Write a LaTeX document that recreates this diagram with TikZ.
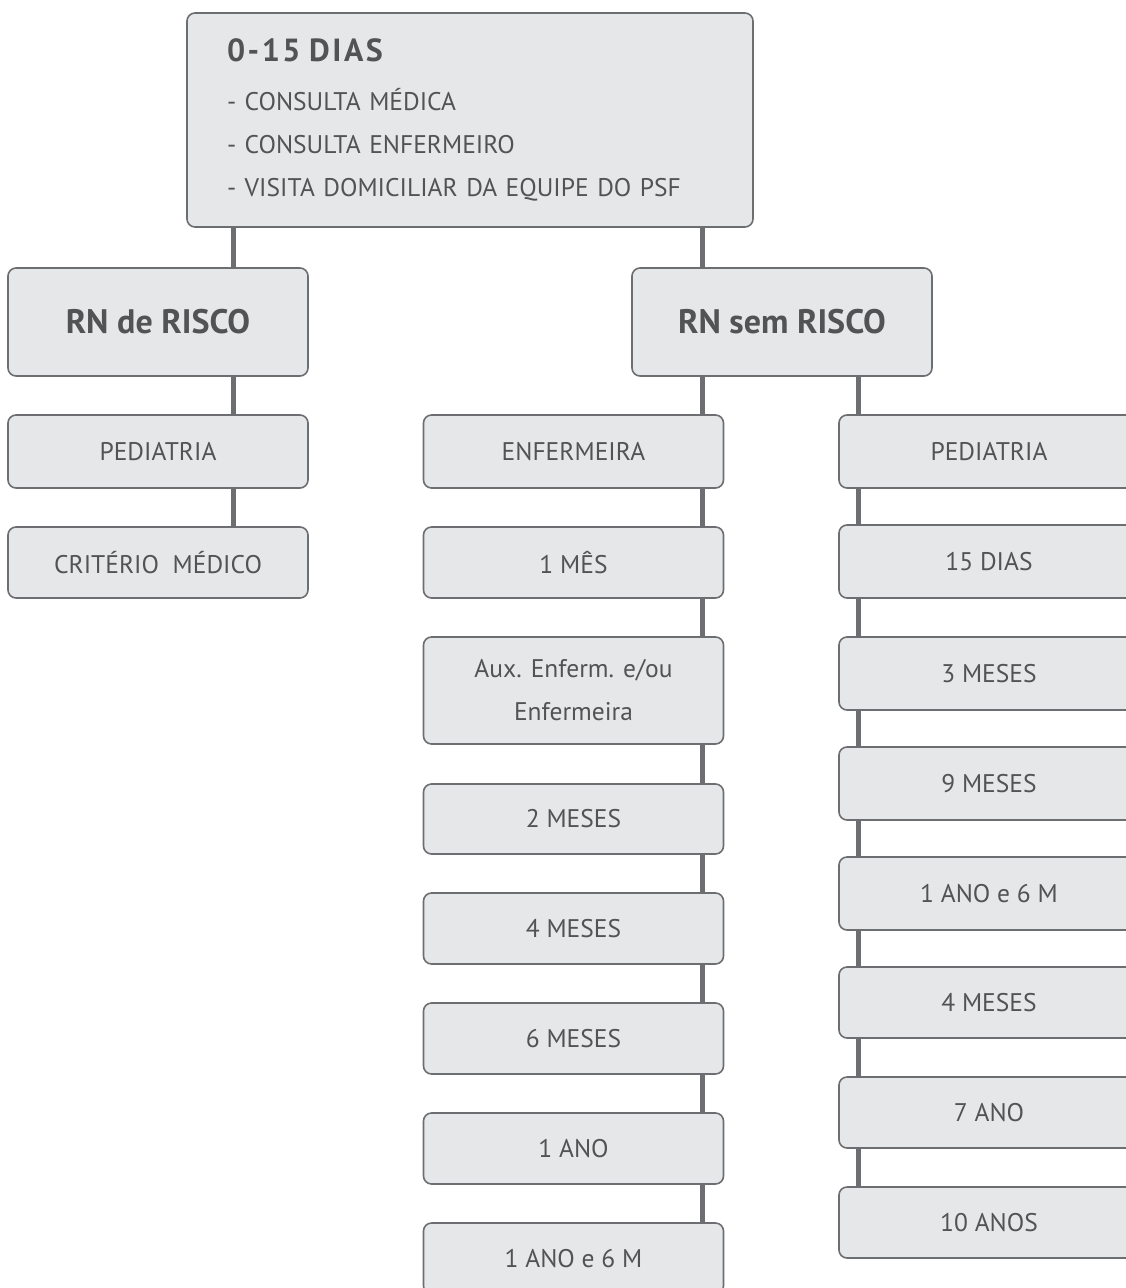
\documentclass[tikz,border=0pt]{standalone}
\usepackage{fontspec}
\setmainfont{PT Sans}
\usepackage{tikz}
\definecolor{boxfill}{HTML}{E6E7E8}
\definecolor{boxline}{HTML}{6D6E71}
\definecolor{txtgrey}{HTML}{525355}
\tikzstyle{box}=[draw=boxline,fill=boxfill,rounded corners=8pt,line width=1.6pt,text=txtgrey,minimum width=300pt,minimum height=72pt,inner sep=0pt,font=\fontsize{25.5}{43}\selectfont]
\tikzstyle{bigbox}=[box,minimum height=108pt,font=\fontsize{34}{40}\selectfont\bfseries]
\tikzstyle{link}=[draw=boxline,line width=5pt]

\begin{document}
\begin{tikzpicture}[x=1pt,y=-1pt]
    \useasboundingbox (0,0) rectangle (1126,1288);
    \clip (0,0) rectangle (1126,1288);
    \coordinate (xl) at (233,0);
    \coordinate (xr) at (702,0);
    \coordinate (xp) at (858,0);
%   top
    \node[box,minimum width=566pt,minimum height=214pt,text width=486pt,align=left] (top) at (470,120)
      {{\fontsize{32}{43}\selectfont\bfseries\addfontfeatures{LetterSpace=8}0-15 DIAS}\\[6pt]
       - CONSULTA MÉDICA\\
       - CONSULTA ENFERMEIRO\\
       - VISITA DOMICILIAR DA EQUIPE DO PSF};
%   RN de risco
    \node[bigbox] (risco) at (158,322) {RN de RISCO};
    \node[box,minimum height=73pt] (pedl) at (158,451.5) {PEDIATRIA};
    \node[box,minimum height=71pt] (crit) at (158,562.5) {CRITÉRIO\ \ MÉDICO};
%   RN sem risco
    \node[bigbox] (semrisco) at (782,322) {RN sem RISCO};
%   enfermeira
    \node[box,minimum height=73pt] (enf) at (573.5,451.5) {ENFERMEIRA};
    \node[box,minimum height=71pt] (mes1) at (573.5,562.5) {1 MÊS};
    \node[box,minimum height=107pt,align=center] (aux) at (573.5,690.5) {Aux. Enferm. e/ou\\Enfermeira};
    \node[box,minimum height=70pt] (m2) at (573.5,819) {2 MESES};
    \node[box,minimum height=71pt] (m4) at (573.5,928.5) {4 MESES};
    \node[box,minimum height=71pt] (m6) at (573.5,1038.5) {6 MESES};
    \node[box,minimum height=71pt] (ano1) at (573.5,1148.5) {1 ANO};
    \node[box,minimum height=71pt] (ano16) at (573.5,1258.5) {1 ANO e 6 M};
%   pediatria
    \node[box,minimum height=73pt] (pedr) at (989,451.5) {PEDIATRIA};
    \node[box,minimum height=73pt] (d15) at (989,561.5) {15 DIAS};
    \node[box,minimum height=73pt] (m3) at (989,673.5) {3 MESES};
    \node[box,minimum height=73pt] (m9) at (989,783.5) {9 MESES};
    \node[box,minimum height=73pt] (a16) at (989,893.5) {1 ANO e 6 M};
    \node[box,minimum height=71pt] (m4r) at (989,1002.5) {4 MESES};
    \node[box,minimum height=71pt] (a7) at (989,1112.5) {7 ANO};
    \node[box,minimum height=71pt] (a10) at (989,1222.5) {10 ANOS};
%   links
    \draw[link] (top.south -| xl) -- (risco.north -| xl);
    \draw[link] (top.south -| xr) -- (semrisco.north -| xr);
    \draw[link] (risco.south -| xl) -- (pedl.north -| xl);
    \draw[link] (pedl.south -| xl) -- (crit.north -| xl);
    \draw[link] (semrisco.south -| xr) -- (enf.north -| xr);
    \draw[link] (enf.south -| xr) -- (mes1.north -| xr);
    \draw[link] (mes1.south -| xr) -- (aux.north -| xr);
    \draw[link] (aux.south -| xr) -- (m2.north -| xr);
    \draw[link] (m2.south -| xr) -- (m4.north -| xr);
    \draw[link] (m4.south -| xr) -- (m6.north -| xr);
    \draw[link] (m6.south -| xr) -- (ano1.north -| xr);
    \draw[link] (ano1.south -| xr) -- (ano16.north -| xr);
    \draw[link] (semrisco.south -| xp) -- (pedr.north -| xp);
    \draw[link] (pedr.south -| xp) -- (d15.north -| xp);
    \draw[link] (d15.south -| xp) -- (m3.north -| xp);
    \draw[link] (m3.south -| xp) -- (m9.north -| xp);
    \draw[link] (m9.south -| xp) -- (a16.north -| xp);
    \draw[link] (a16.south -| xp) -- (m4r.north -| xp);
    \draw[link] (m4r.south -| xp) -- (a7.north -| xp);
    \draw[link] (a7.south -| xp) -- (a10.north -| xp);
\end{tikzpicture}
\end{document}
